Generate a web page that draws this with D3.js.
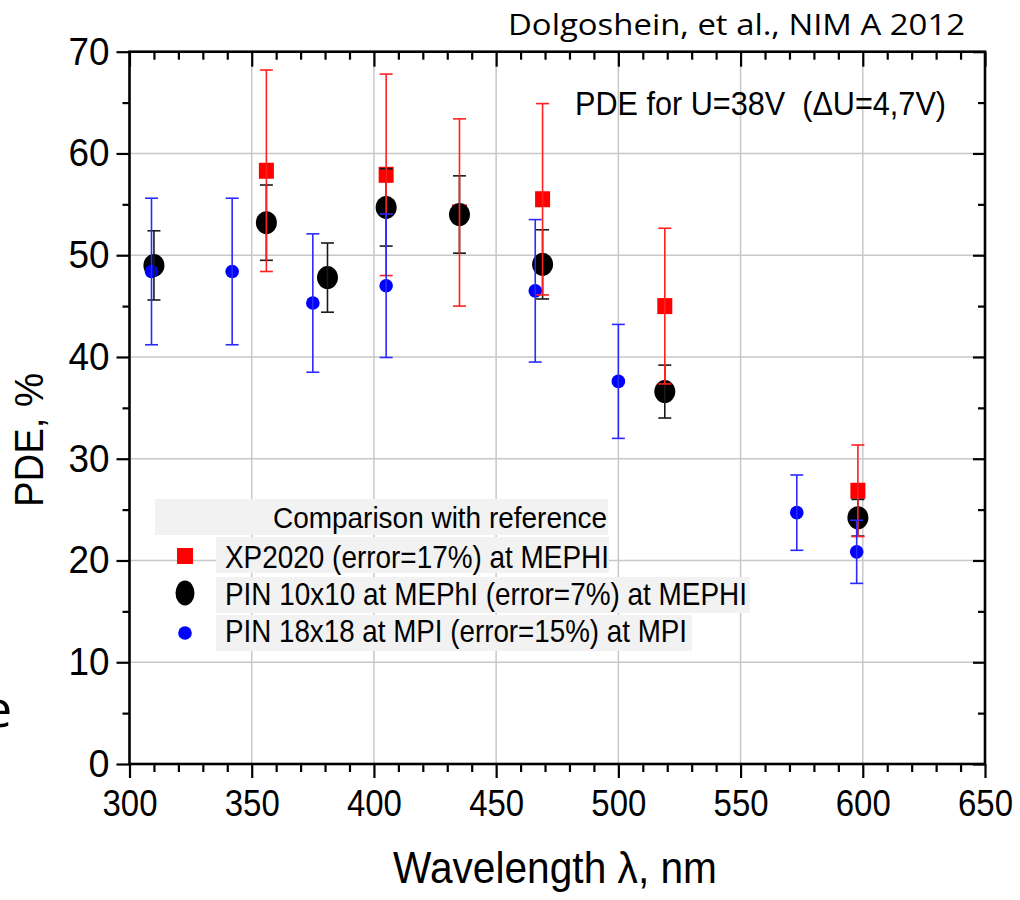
<!DOCTYPE html>
<html>
<head>
<meta charset="utf-8">
<script src="https://cdn.jsdelivr.net/npm/d3@7"></script>
<style>
  html, body { margin: 0; padding: 0; background: #fff; }
  svg { display: block; }
  text { font-family: "Liberation Sans", Arial, sans-serif; fill: #000; }
</style>
</head>
<body>
<svg id="chart" width="1020" height="900"></svg>
<script>
// ---- data ----
const xpX   = [356, 405, 435, 469, 519, 598];
const xpY   = [58.3, 57.9, 54.2, 55.5, 45.0, 26.85];
const xpErr = [9.9, 9.9, 9.2, 9.4, 7.65, 4.5];

const pin10X   = [310, 356, 381, 405, 435, 469, 519, 598];
const pin10Y   = [49.0, 53.2, 47.8, 54.7, 54.0, 49.1, 36.6, 24.2];
const pin10Err = [3.4, 3.7, 3.4, 3.8, 3.8, 3.4, 2.6, 1.8];

const pin18X   = [309, 342, 375, 405, 466, 500, 573, 597.5];
const pin18Y   = [48.4, 48.4, 45.3, 47.0, 46.5, 37.6, 24.7, 20.85];
const pin18Err = [7.2, 7.2, 6.8, 7.05, 7.0, 5.6, 3.7, 3.1];

const xTickValues = [300, 350, 400, 450, 500, 550, 600, 650];
const yTickValues = [0, 10, 20, 30, 40, 50, 60, 70];

const legendTitle = "Comparison with reference";
const legendLabels = [
  "XP2020 (error=17%) at MEPHI",
  "PIN 10x10 at MEPhI (error=7%) at MEPHI",
  "PIN 18x18 at MPI (error=15%) at MPI"
];
const titleText = "Dolgoshein, et al., NIM A 2012";
const noteText = "PDE for U=38V  (\u0394U=4,7V)";
const xLabel = "Wavelength \u03bb, nm";
const yLabel = "PDE, %";

// ---- layout ----
const svg = d3.select("#chart");
const L = 129.5, R = 985, T = 51.7, B = 764;
const x = d3.scaleLinear().domain([300, 650]).range([L, R]);
const y = d3.scaleLinear().domain([0, 70]).range([B, T]);

// stray fragment of slide text at left edge
svg.append("text").attr("x", -17).attr("y", 727).attr("font-size", 52)
  .style("font-family", "'Open Sans', sans-serif").text("e");

// gridlines
const grid = svg.append("g").attr("stroke", "#c8c8c8").attr("stroke-width", 1.5);
grid.selectAll(".gx").data(xTickValues.filter(v => v > 300 && v < 650)).join("line")
  .attr("x1", d => x(d)).attr("x2", d => x(d)).attr("y1", T).attr("y2", B);
grid.selectAll(".gy").data(yTickValues.filter(v => v > 0 && v < 70)).join("line")
  .attr("y1", d => y(d)).attr("y2", d => y(d)).attr("x1", L).attr("x2", R);

// axes ticks
function styleAxis(g) {
  g.select(".domain").remove();
  g.selectAll(".tick line").attr("stroke", "#000").attr("stroke-width", 2.2);
}
const xMinor = d3.range(300, 651, 10).filter(v => v % 50 !== 0);
const yMinor = d3.range(5, 70, 10);

// bottom
svg.append("g").attr("transform", `translate(0,${B})`)
  .call(d3.axisBottom(x).tickValues(xMinor).tickSize(8).tickFormat(""))
  .call(styleAxis);
const xb = svg.append("g").attr("transform", `translate(0,${B})`)
  .call(d3.axisBottom(x).tickValues(xTickValues).tickSize(14).tickPadding(12).tickFormat(d3.format("d")))
  .call(styleAxis);
xb.selectAll(".tick text").attr("font-size", 37)
  .attr("textLength", 55).attr("lengthAdjust", "spacingAndGlyphs")
  .style("font-family", "'Liberation Sans', Arial, sans-serif");

// top (inward)
svg.append("g").attr("transform", `translate(0,${T})`)
  .call(d3.axisTop(x).tickValues(xMinor).tickSize(-8).tickFormat(""))
  .call(styleAxis);
svg.append("g").attr("transform", `translate(0,${T})`)
  .call(d3.axisTop(x).tickValues(xTickValues).tickSize(-15).tickFormat(""))
  .call(styleAxis);

// left (outward)
svg.append("g").attr("transform", `translate(${L},0)`)
  .call(d3.axisLeft(y).tickValues(yMinor).tickSize(7).tickFormat(""))
  .call(styleAxis);
const yl = svg.append("g").attr("transform", `translate(${L},0)`)
  .call(d3.axisLeft(y).tickValues(yTickValues).tickSize(13).tickPadding(7).tickFormat(d3.format("d")))
  .call(styleAxis);
yl.selectAll(".tick text").attr("font-size", 39)
  .attr("textLength", d => String(d).length === 1 ? 21 : 41)
  .attr("lengthAdjust", "spacingAndGlyphs")
  .style("font-family", "'Liberation Sans', Arial, sans-serif");

// right (inward)
svg.append("g").attr("transform", `translate(${R},0)`)
  .call(d3.axisRight(y).tickValues(yMinor).tickSize(-7).tickFormat(""))
  .call(styleAxis);
svg.append("g").attr("transform", `translate(${R},0)`)
  .call(d3.axisRight(y).tickValues(yTickValues).tickSize(-12).tickFormat(""))
  .call(styleAxis);

// frame
svg.append("rect").attr("x", L).attr("y", T).attr("width", R - L).attr("height", B - T)
  .attr("fill", "none").attr("stroke", "#000").attr("stroke-width", 2.6);

// ---- markers ----
const xp = xpX.map((v, i) => ({x: v, y: xpY[i], e: xpErr[i]}));
const p10 = pin10X.map((v, i) => ({x: v, y: pin10Y[i], e: pin10Err[i]}));
const p18 = pin18X.map((v, i) => ({x: v, y: pin18Y[i], e: pin18Err[i]}));

svg.append("g").selectAll("rect").data(xp).join("rect")
  .attr("x", d => x(d.x) - 7.5).attr("y", d => y(d.y) - 8)
  .attr("width", 15).attr("height", 16).attr("fill", "#ff0000");
svg.append("g").selectAll("ellipse").data(p10).join("ellipse")
  .attr("cx", d => x(d.x)).attr("cy", d => y(d.y))
  .attr("rx", 10.5).attr("ry", 11.5).attr("fill", "#000");
svg.append("g").selectAll("circle").data(p18).join("circle")
  .attr("cx", d => x(d.x)).attr("cy", d => y(d.y))
  .attr("r", 6.8).attr("fill", "#0000ff");

// ---- error bars ----
function errorBars(data, color) {
  const g = svg.append("g").attr("stroke", color).attr("stroke-width", 1.6).attr("fill", "none");
  g.selectAll(".v").data(data).join("line")
    .attr("x1", d => x(d.x)).attr("x2", d => x(d.x))
    .attr("y1", d => y(d.y + d.e)).attr("y2", d => y(d.y - d.e));
  g.selectAll(".t").data(data).join("line")
    .attr("x1", d => x(d.x) - 6.5).attr("x2", d => x(d.x) + 6.5)
    .attr("y1", d => y(d.y + d.e)).attr("y2", d => y(d.y + d.e));
  g.selectAll(".b").data(data).join("line")
    .attr("x1", d => x(d.x) - 6.5).attr("x2", d => x(d.x) + 6.5)
    .attr("y1", d => y(d.y - d.e)).attr("y2", d => y(d.y - d.e));
}
errorBars(p10, "#1a1a1a");
errorBars(xp, "#ff2020");
errorBars(p18, "#2a2aff");

// ---- texts ----
svg.append("text").attr("x", 508).attr("y", 35).attr("font-size", 29)
  .style("font-family", "'Open Sans', 'Noto Sans', sans-serif")
  .attr("textLength", 457).attr("lengthAdjust", "spacingAndGlyphs").text(titleText);

svg.append("text").attr("x", 575).attr("y", 115).attr("font-size", 34)
  .style("white-space", "pre")
  .attr("textLength", 371).attr("lengthAdjust", "spacingAndGlyphs").text(noteText);

svg.append("text").attr("transform", "translate(43,440) rotate(-90)")
  .attr("text-anchor", "middle").attr("font-size", 40)
  .attr("textLength", 134).attr("lengthAdjust", "spacingAndGlyphs").text(yLabel);

svg.append("text").attr("x", 555).attr("y", 883).attr("text-anchor", "middle")
  .attr("font-size", 44).attr("textLength", 324).attr("lengthAdjust", "spacingAndGlyphs")
  .text(xLabel);

// ---- legend ----
const lg = svg.append("g");
lg.append("rect").attr("x", 155).attr("y", 499).attr("width", 453).attr("height", 36).attr("fill", "#f2f2f2");
lg.append("text").attr("x", 273).attr("y", 528).attr("font-size", 30)
  .attr("textLength", 334).attr("lengthAdjust", "spacingAndGlyphs").text(legendTitle);

const rowTop = [537, 577, 615];
const rowW = [393, 534, 476];
const rowBase = [568, 605, 642];
const rowLen = [384, 522, 462];
legendLabels.forEach((lab, i) => {
  lg.append("rect").attr("x", 216).attr("y", rowTop[i]).attr("width", rowW[i]).attr("height", 36).attr("fill", "#f2f2f2");
  lg.append("text").attr("x", 225).attr("y", rowBase[i]).attr("font-size", 32)
    .attr("textLength", rowLen[i]).attr("lengthAdjust", "spacingAndGlyphs").text(lab);
});
lg.append("rect").attr("x", 177).attr("y", 548).attr("width", 16).attr("height", 16).attr("fill", "#ff0000");
lg.append("ellipse").attr("cx", 185).attr("cy", 593).attr("rx", 9.5).attr("ry", 12.5).attr("fill", "#000");
lg.append("circle").attr("cx", 185).attr("cy", 633).attr("r", 6.8).attr("fill", "#0000ff");
</script>
</body>
</html>
